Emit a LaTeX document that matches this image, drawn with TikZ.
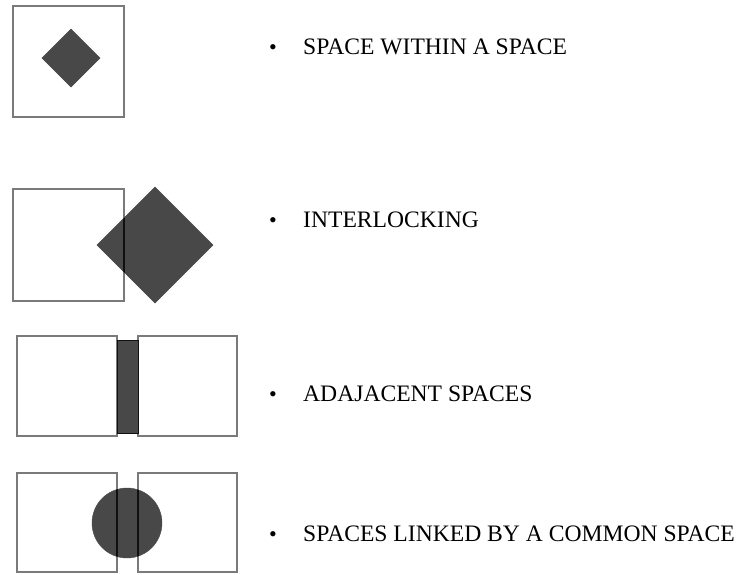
\documentclass[tikz,border=0pt]{standalone}
\usepackage{fontspec}
\setmainfont{Liberation Serif}
\definecolor{boxgray}{HTML}{7A7A7A}
\definecolor{darkfill}{HTML}{484848}
\definecolor{edgedark}{HTML}{101010}
\tikzset{
  spacebox/.style={draw=boxgray, line width=1.3pt, fill=white},
  solidshape/.style={fill=darkfill, draw=darkfill, line width=0.4pt},
  innerline/.style={draw=edgedark, line width=1.3pt},
  bulletmark/.style={anchor=base, inner sep=0pt, font=\fontsize{22}{26}\selectfont},
  label/.style={anchor=base west, inner sep=0pt, font=\fontsize{23.6}{28}\selectfont}
}
\begin{document}
\begin{tikzpicture}[x=1pt,y=-1pt]
\useasboundingbox (0,0) rectangle (739,574);

% 1: space within a space
\draw[spacebox] (13,6) rectangle (124,117);
\fill[solidshape] (71,29) -- (100,58) -- (71,87) -- (42,58) -- cycle;

% 2: interlocking
\draw[spacebox] (13,189) rectangle (124,301);
\fill[solidshape] (155,187) -- (213,245) -- (155,303) -- (97,245) -- cycle;
\begin{scope}
  \clip (155,187) -- (213,245) -- (155,303) -- (97,245) -- cycle;
  \draw[innerline] (124,189) -- (124,301);
\end{scope}

% 3: adjacent spaces
\draw[spacebox] (17,336) rectangle (117,436);
\draw[spacebox] (138,336) rectangle (237,436);
\filldraw[fill=darkfill, draw=edgedark, line width=0.9pt] (117,340) rectangle (138,433);

% 4: spaces linked by a common space
\draw[spacebox] (17,473) rectangle (117,572);
\draw[spacebox] (138,473) rectangle (237,572);
\fill[solidshape] (127,523) circle (35);
\begin{scope}
  \clip (127,523) circle (35);
  \draw[innerline] (117,473) -- (117,572);
  \draw[innerline] (138,473) -- (138,572);
\end{scope}

% labels
\node[bulletmark] (b1) at (273,54) {•};
\node[label] (t1) at (303,54) {SPACE WITHIN A SPACE};
\node[bulletmark] (b2) at (273,227) {•};
\node[label] (t2) at (303,227) {INTERLOCKING};
\node[bulletmark] (b3) at (273,401) {•};
\node[label] (t3) at (303,401) {ADAJACENT SPACES};
\node[bulletmark] (b4) at (273,541) {•};
\node[label] (t4) at (303,541) {SPACES LINKED BY A COMMON SPACE};
\end{tikzpicture}
\end{document}
